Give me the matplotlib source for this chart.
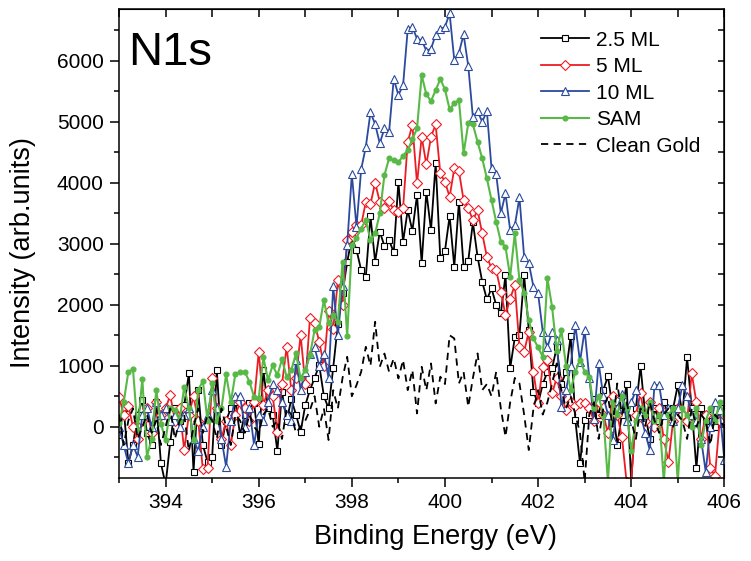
import numpy as np
import matplotlib
matplotlib.use("Agg")
import matplotlib.pyplot as plt
from matplotlib.ticker import MultipleLocator

plt.rcParams['font.family'] = ['Liberation Sans', 'DejaVu Sans']

# binding energy grid, 0.1 eV step from 393.0 to 406.0
energy = np.round(np.arange(393.0, 406.05, 0.1), 1)

ml_2_5 = [
    -136, 300, -600, -300, 200, 437, -100, -300, 400, -600,
    -950, -245, 300, 100, 350, 874, -737, 600, -300, -573,
    -500, 928, -300, 100, 300, 400, -136, 200, 393, 393,
    -290, 928, 300, 200, -400, 573, 100, 450, 200, -82,
    355, 600, 800, 1010, 500, 300, 970, 1680, 2200, 2700,
    3100, 2900, 2568, 2459, 3454, 2705, 3200, 2962, 3060, 2859,
    4016, 3033, 3552, 3213, 3798, 2678, 3852, 3224, 4318, 2760,
    2885, 3454, 2623, 3689, 2623, 2721, 3350, 2786, 2377, 2087,
    2268, 1994, 1858, 2486, 956, 1464, 1500, 2486, 1585, 574,
    382, 700, 900, 956, 1300, 700, 900, 1486, 109, -601,
    109, 200, 450, 200, 600, 830, 300, -300, 200, 700,
    -900, 300, 994, 200, -200, 300, 100, 400, 200, 300,
    683, 200, 1136, 300, -683, 300, 100, 200, 0, 300,
    100]

ml_5 = [
    492, 200, 339, 0, -200, 100, 300, -100, 400, 200,
    300, 519, 100, 300, -382, 200, 500, 100, -700, -683,
    792, 300, -200, 100, -300, 200, 400, 300, 100, 400,
    1229, 355, 600, 500, -82, 700, 1311, 600, 800, 1502,
    700, 1776, 1700, 1393, 1000, 1900, 1600, 2404, 2000, 3060,
    3200, 3300, 3306, 3688, 3650, 4000, 3688, 3579, 3700, 3552,
    3524, 3579, 4672, 4945, 3989, 4754, 4300, 4754, 4956, 4153,
    4016, 3770, 4235, 4191, 3715, 3579, 3388, 3552, 3169, 2787,
    2595, 2568, 2213, 1830, 2100, 2322, 1311, 1229, 1557, 900,
    382, 983, 1093, 546, 800, 500, 273, 400, 344, 382,
    382, 300, 100, 400, 200, -100, 500, 200, -164, -900,
    -900, 200, 546, 100, 410, 0, 300, -200, -574, 100,
    300, 200, 100, 874, 400, -200, 200, -683, -800, 100,
    200]

ml_10 = [
    0, -300, -600, -300, -490, 200, 300, 0, 400, 200,
    300, 100, 200, 0, 200, 300, -200, -400, 0, 200,
    600, 300, -200, -655, 100, 500, 500, 0, 300, -300,
    200, 100, 400, 700, 600, 400, 200, 100, 1100, 600,
    900, 1200, 1300, 1000, 1200, 800, 2300, 1500, 2300, 2979,
    4143, 3274, 4220, 4590, 5154, 4962, 4646, 4892, 4836, 5705,
    5438, 5597, 6515, 6557, 6361, 6339, 6165, 6197, 6426, 6514,
    6557, 6777, 6011, 6131, 6432, 5918, 5072, 5175, 5000, 5175,
    4236, 4138, 3500, 3826, 3220, 3300, 3760, 2787, 2689, 2295,
    2187, 1557, 1300, 1557, 1421, 328, 600, 1000, 1667, 1066,
    1585, 800, 120, 1049, 500, 200, -218, 300, 536, 100,
    400, 600, 200, -100, -382, 683, 683, 200, 300, 100,
    300, 683, 500, 200, 100, -200, -737, 0, 400, 273,
    -546]

sam = [
    55, 400, 900, 940, -55, 790, -490, -200, 600, 50,
    -220, 300, 270, 100, 655, 300, -220, 600, 750, 100,
    710, 100, 300, 860, 400, 870, 890, 900, 740, 490,
    464, 1136, 764, 1010, 846, 1103, 819, 928, 1201, 792,
    928, 1174, 1583, 1638, 2075, 1693, 1829, 1720, 2703, 1485,
    2979, 3100, 3250, 3389, 3060, 3169, 3497, 4126, 4400, 4372,
    4334, 4443, 4536, 4711, 4892, 5765, 5449, 5339, 5520, 5700,
    5531, 5203, 5302, 5356, 4482, 4974, 4957, 4672, 4400, 4072,
    3716, 3361, 3033, 2951, 2459, 3169, 2404, 2200, 1750, 1448,
    1300, 1150, 2432, 1967, 1250, 1585, 1000, 601, 900, 1093,
    900, 820, 300, 500, 200, -900, 400, 200, 500, 300,
    -400, 100, 300, 200, 400, 100, 200, -900, 200, 300,
    -900, 300, 200, 0, 300, -300, 100, 300, 100, 400,
    200]

clean_gold = [
    200, -300, 100, 300, -200, 0, 200, -100, 100, -300,
    0, 300, -200, 100, 200, -400, 0, 300, -100, 200,
    100, -200, 300, 0, -300, 200, 100, -100, 200, 0,
    -100, 200, 300, 0, 100, -200, 300, 200, -100, 0,
    100, 273, 500, 0, 300, -218, 600, 300, 800, 1147,
    500, 683, 900, 1311, 1000, 1721, 983, 1200, 900, 1120,
    792, 1093, 600, 929, 218, 983, 600, 1038, 382, 820,
    700, 1500, 1448, 710, 900, 328, 800, 1202, 600, 700,
    500, 900, 300, -164, 400, 800, 710, 200, -382, 300,
    600, 200, 400, 700, 1038, 600, 300, 500, 200, -100,
    -900, 200, 400, -200, 300, 500, 0, 710, 200, 400,
    100, -200, 300, 0, 400, 100, -100, 200, 300, 0,
    200, 100, -200, 300, 0, 200, 100, -300, 200, 100,
    0]

fig = plt.figure(figsize=(7.51, 5.61), dpi=100)
ax = fig.add_axes([0.1585, 0.148, 0.806, 0.836])

ax.plot(energy, ml_2_5, color='black', lw=1.3, marker='s', ms=4.8,
        mfc='white', mec='black', mew=0.8, label='2.5 ML')
ax.plot(energy, ml_5, color='#ec1c24', lw=1.3, marker='D', ms=4.8,
        mfc='white', mec='#ec1c24', mew=0.8, label='5 ML')
ax.plot(energy, ml_10, color='#2b4a9e', lw=1.3, marker='^', ms=5.5,
        mfc='white', mec='#2b4a9e', mew=0.8, label='10 ML')
ax.plot(energy, sam, color='#58b947', lw=1.5, marker='o', ms=3.4,
        mfc='#58b947', mec='#58b947', label='SAM')
ax.plot(energy, clean_gold, color='black', lw=1.3, ls=(0, (4, 3)),
        label='Clean Gold')

ax.set_xlim(393, 406)
ax.set_ylim(-840, 6850)
ax.xaxis.set_major_locator(MultipleLocator(2))
ax.xaxis.set_minor_locator(MultipleLocator(1))
ax.yaxis.set_major_locator(MultipleLocator(1000))
ax.yaxis.set_minor_locator(MultipleLocator(500))
ax.tick_params(which='both', direction='out', labelsize=15, width=1.1,
               top=False, right=False)
ax.tick_params(which='major', length=6.5)
ax.tick_params(which='minor', length=3.5)
ax.tick_params(axis='x', pad=4)
ax.tick_params(axis='y', pad=4.5)
for s in ax.spines.values():
    s.set_linewidth(1.1)

top = ax.secondary_xaxis('top')
top.xaxis.set_major_locator(MultipleLocator(1))
top.tick_params(direction='in', length=6, width=1.1, labeltop=False)
right = ax.secondary_yaxis('right')
right.yaxis.set_major_locator(MultipleLocator(500))
right.tick_params(direction='in', length=4, width=1.1, labelright=False)

ax.set_xlabel('Binding Energy (eV)', fontsize=19.5)
ax.set_ylabel('Intensity (arb.units)', fontsize=19.5)
ax.xaxis.set_label_coords(0.5235, -0.099)
ax.yaxis.set_label_coords(-0.137, 0.48)

ax.text(0.015, 0.8806, 'N1s', transform=ax.transAxes, fontsize=34,
        ha='left', va='baseline')

ax.legend(loc='upper right', bbox_to_anchor=(0.985, 0.985), frameon=False,
          fontsize=15, handlelength=2.3, handletextpad=0.35,
          labelspacing=0.36, borderpad=0.2)

fig.savefig('out.png', dpi=100)
